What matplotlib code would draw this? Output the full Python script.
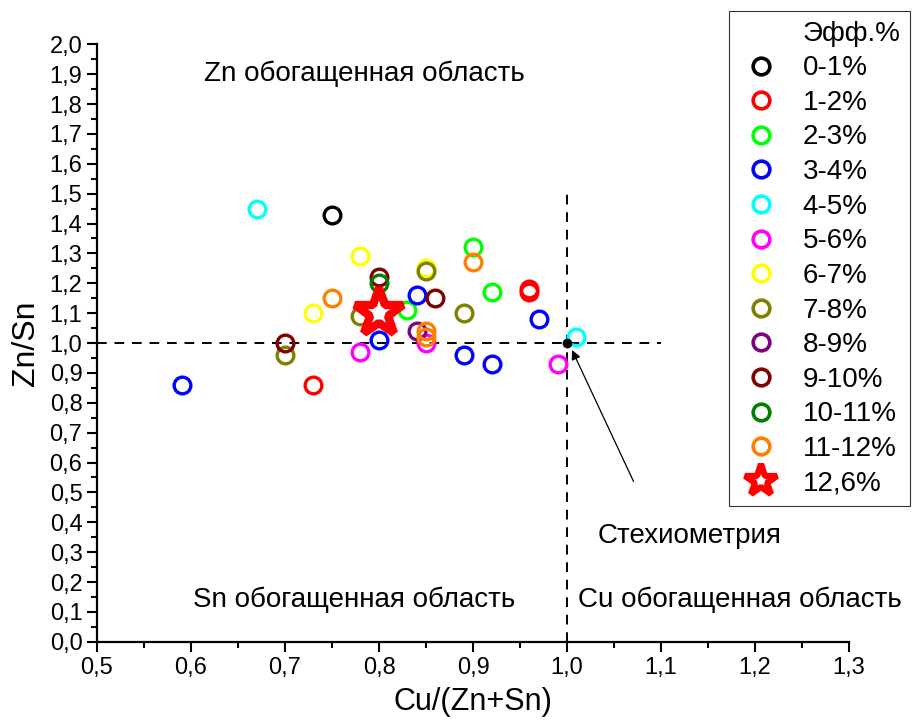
import numpy as np
import matplotlib
matplotlib.use('Agg')
import matplotlib.pyplot as plt
from matplotlib.lines import Line2D
from matplotlib.ticker import MultipleLocator, FuncFormatter

plt.rcParams['font.family'] = ['Liberation Sans', 'DejaVu Sans']

# группы по эффективности
labels = ['0-1%', '1-2%', '2-3%', '3-4%', '4-5%', '5-6%', '6-7%',
          '7-8%', '8-9%', '9-10%', '10-11%', '11-12%']
colors = ['#000000', '#ff0000', '#00ff00', '#0000ff', '#00ffff', '#ff00ff',
          '#ffff00', '#808000', '#800080', '#800000', '#008000', '#ff8000']
group_x = [
    [0.75],
    [0.73, 0.96, 0.96],
    [0.90, 0.92, 0.83],
    [0.59, 0.80, 0.84, 0.89, 0.92, 0.97],
    [0.67, 1.01, 0.80],
    [0.78, 0.85, 0.99],
    [0.78, 0.73, 0.85],
    [0.85, 0.70, 0.89, 0.78],
    [0.84],
    [0.70, 0.80, 0.86],
    [0.80],
    [0.75, 0.90, 0.85, 0.85],
]
group_y = [
    [1.43],
    [0.86, 1.18, 1.17],
    [1.32, 1.17, 1.11],
    [0.86, 1.01, 1.16, 0.96, 0.93, 1.08],
    [1.45, 1.02, 1.13],
    [0.97, 1.00, 0.93],
    [1.29, 1.10, 1.25],
    [1.24, 0.96, 1.10, 1.09],
    [1.04],
    [1.00, 1.22, 1.15],
    [1.20],
    [1.15, 1.27, 1.04, 1.02],
]
best_x, best_y, best_label = 0.80, 1.10, '12,6%'
stoich_x, stoich_y = 1.0, 1.0

fig = plt.figure(figsize=(9.15, 7.26), dpi=100)
ax = fig.add_axes([0.106, 0.116, 0.822, 0.823])

# пунктирные линии стехиометрии
ax.plot([0.5, 1.1], [1.0, 1.0], ls=(0, (5, 4)), color='black', lw=1.4, zorder=1)
ax.plot([1.0, 1.0], [0.0, 1.5], ls=(0, (5, 4)), color='black', lw=1.4, zorder=1)

handles = [Line2D([], [], ls='none', marker='none')]
leg_labels = ['Эфф.%']
for xs, ys, c, lab in zip(group_x, group_y, colors, labels):
    ax.plot(xs, ys, ls='none', marker='o', ms=12, mfc='none', mec=c, mew=2.4, zorder=3)
    handles.append(Line2D([], [], ls='none', marker='o', ms=12, mfc='none', mec=c, mew=2.6))
    leg_labels.append(lab)

ax.plot([best_x], [best_y], ls='none', marker='*', ms=36, mfc='white', mec='red', mew=6, zorder=4)
handles.append(Line2D([], [], ls='none', marker='*', ms=24, mfc='white', mec='red', mew=4.5))
leg_labels.append(best_label)

ax.plot([stoich_x], [stoich_y], 'o', color='black', ms=6, zorder=5)

ax.annotate('', xy=(1.004, 0.985), xytext=(1.072, 0.528),
            arrowprops=dict(arrowstyle='-|>', color='black', lw=0.9, mutation_scale=14))

ax.text(0.614, 1.90, 'Zn обогащенная область', fontsize=20, va='center')
ax.text(0.602, 0.14, 'Sn обогащенная область', fontsize=20, va='center')
ax.text(1.012, 0.14, 'Cu обогащенная область', fontsize=20, va='center')
ax.text(1.033, 0.355, 'Стехиометрия', fontsize=20, va='center')

ax.set_xlim(0.5, 1.3)
ax.set_ylim(0.0, 2.0)
ax.xaxis.set_major_locator(MultipleLocator(0.1))
ax.xaxis.set_minor_locator(MultipleLocator(0.05))
ax.yaxis.set_major_locator(MultipleLocator(0.1))
ax.yaxis.set_minor_locator(MultipleLocator(0.05))
comma = FuncFormatter(lambda v, p: f'{v:.1f}'.replace('.', ','))
ax.xaxis.set_major_formatter(comma)
ax.yaxis.set_major_formatter(comma)
ax.tick_params(which='major', direction='out', length=7, width=1.5, labelsize=17)
ax.tick_params(which='minor', direction='out', length=4, width=1.5)
ax.tick_params(axis='x', which='major', pad=4)
for s in ['top', 'right']:
    ax.spines[s].set_visible(False)
for s in ['left', 'bottom']:
    ax.spines[s].set_linewidth(1.6)

ax.set_xlabel('Cu/(Zn+Sn)', fontsize=22, labelpad=6)
ax.set_ylabel('Zn/Sn', fontsize=23, labelpad=6)

leg = fig.legend(handles, leg_labels, loc='upper right', bbox_to_anchor=(0.995, 0.985),
                 fontsize=20, frameon=True, fancybox=False, edgecolor='black',
                 labelspacing=0.31, handletextpad=0.7, borderpad=0.35, handlelength=1.6,
                 borderaxespad=0)
leg.get_frame().set_linewidth(0.8)

fig.savefig('out.png', dpi=100)
